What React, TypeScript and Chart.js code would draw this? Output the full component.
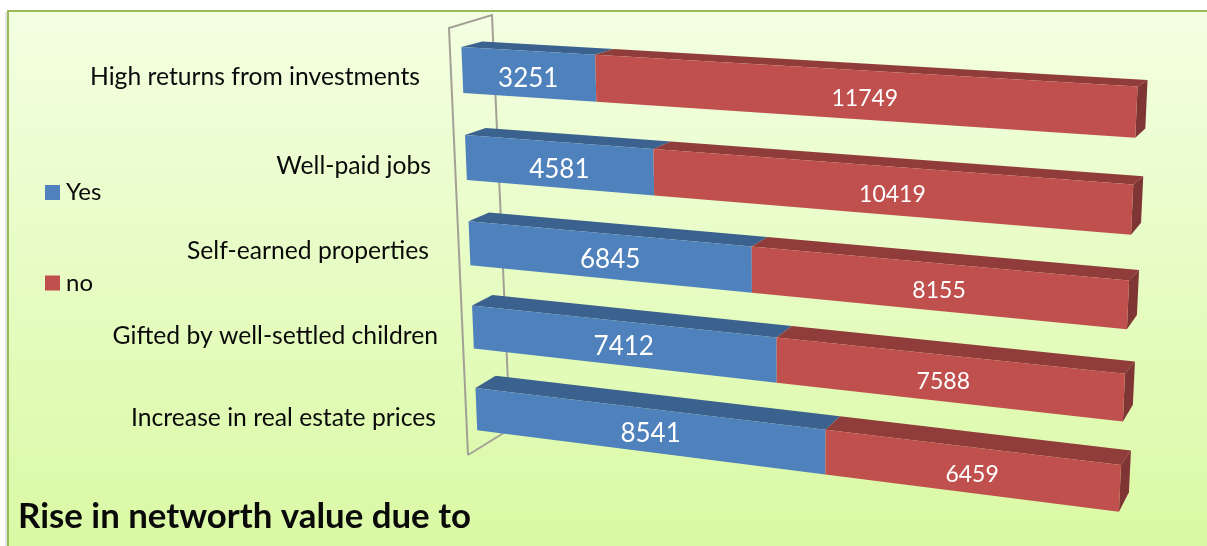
import React, { useEffect, useRef } from "react";
import { Chart, registerables } from "chart.js";

Chart.register(...registerables);

const categories = [
  "High returns from investments",
  "Well-paid jobs",
  "Self-earned properties",
  "Gifted by well-settled children",
  "Increase in real estate prices",
];
const yesValues = [3251, 4581, 6845, 7412, 8541];
const noValues = [11749, 10419, 8155, 7588, 6459];
const seriesNames = ["Yes", "no"];
const titleText = "Rise in networth value due to";

const FONT = "Lato, Carlito, sans-serif";
const labelRight = [420, 431, 429, 438, 436];
const labelMid = [77, 166, 251, 336, 418];
const legendY = [192.5, 283];
const faces = [
  { front: "#4f81bd", top: "#3b618e", side: "#345679" },
  { front: "#c0504d", top: "#8f3c3a", side: "#7f3533" },
];
const labelFontPx = [26, 23];
// small label shifts, since the original places labels in 3D space
const labelNudgeX = [
  [0, 1, 3, 3, 5],
  [11, 9, 5, -2, 3],
];
const labelNudgeY = [
  [4.5, 4.5, 3.5, 3.5, 3.5],
  [4.5, 4.5, 3.5, 3.5, 4.5],
];

type Pt = [number, number];
// perspective quad of the value/category plane on the page
const quad: Pt[] = [[460.5, 25.5], [1138.6, 62.5], [1118, 533], [478, 449.5]];

function makeProjection(q: Pt[]) {
  const [[x0, y0], [x1, y1], [x2, y2], [x3, y3]] = q;
  const dx1 = x1 - x2, dx2 = x3 - x2, sx = x0 - x1 + x2 - x3;
  const dy1 = y1 - y2, dy2 = y3 - y2, sy = y0 - y1 + y2 - y3;
  const d = dx1 * dy2 - dx2 * dy1;
  const g = (sx * dy2 - dx2 * sy) / d;
  const h = (dx1 * sy - sx * dy1) / d;
  const a = x1 - x0 + g * x1, b = x3 - x0 + h * x3, c = x0;
  const e = y1 - y0 + g * y1, f = y3 - y0 + h * y3, i = y0;
  return (u: number, v: number): Pt => {
    const w = g * u + h * v + 1;
    return [(a * u + b * v + c) / w, (e * u + f * v + i) / w];
  };
}
const project = makeProjection(quad);

// depth vector of a bar's top/side, varying over the plane
function depth(u: number, v: number): Pt {
  const dx = (1 - u) * (21 - 1 * v) + u * 10;
  const dy = (1 - u) * (-5 - 8.5 * v) + u * (-6 - 10 * v);
  return [dx, dy];
}

function poly(ctx: CanvasRenderingContext2D, pts: Pt[], fill: string) {
  ctx.beginPath();
  pts.forEach((p, i) => (i ? ctx.lineTo(p[0], p[1]) : ctx.moveTo(p[0], p[1])));
  ctx.closePath();
  ctx.fillStyle = fill;
  ctx.fill();
}

const perspectivePlugin = {
  id: "perspective",
  beforeDraw(chart: any) {
    const { ctx, width, height } = chart;
    ctx.save();
    ctx.fillStyle = "#ffffff";
    ctx.fillRect(0, 0, width, height);
    ctx.fillStyle = "#e4e4e4";
    ctx.fillRect(5, 12, 2, height - 12);
    const g = ctx.createLinearGradient(0, 12, 0, height);
    g.addColorStop(0, "#f3ffe2");
    g.addColorStop(1, "#daf9a4");
    ctx.fillStyle = g;
    ctx.fillRect(8, 11, width - 8, height - 11);
    ctx.fillStyle = "#9bbb59";
    ctx.fillRect(7, 10, width - 7, 2);
    ctx.fillRect(7, 10, 2, height - 10);

    // back wall frame
    const pt = project(0, 0), pb = project(0, 1);
    const ft: Pt = [pt[0] - 11.5, pt[1] + 2.5];
    const bt: Pt = [pt[0] + 31.5, pt[1] - 10.5];
    const fb: Pt = [pb[0] - 10, pb[1] + 5.5];
    const bb: Pt = [pb[0] + 32, pb[1] - 20.5];
    ctx.strokeStyle = "#a3a096";
    ctx.lineWidth = 2;
    ctx.beginPath();
    ctx.moveTo(fb[0], fb[1]);
    ctx.lineTo(ft[0], ft[1]);
    ctx.lineTo(bt[0], bt[1]);
    ctx.lineTo(bb[0], bb[1]);
    ctx.lineTo(fb[0], fb[1]);
    ctx.stroke();
    ctx.restore();
  },
  beforeDatasetsDraw(chart: any) {
    const { ctx, chartArea: ca } = chart;
    const norm = (x: number, y: number): [number, number] => [
      (x - ca.left) / (ca.right - ca.left),
      (y - ca.top) / (ca.bottom - ca.top),
    ];
    const rows = chart.data.labels.length;
    ctx.save();
    for (let r = 0; r < rows; r++) {
      chart.data.datasets.forEach((ds: any, di: number) => {
        const el = chart.getDatasetMeta(di).data[r];
        const [u0, v0] = norm(el.base, el.y - el.height / 2);
        const [u1, v1] = norm(el.x, el.y + el.height / 2);
        const tl = project(u0, v0), tr = project(u1, v0);
        const br = project(u1, v1), bl = project(u0, v1);
        const off = (p: Pt, u: number, v: number, k = 1): Pt => {
          const d = depth(u, v);
          return [p[0] + d[0], p[1] + d[1] * k];
        };
        const col = faces[di];
        poly(ctx, [tl, tr, off(tr, u1, v0), off(tl, u0, v0)], col.top);
        if (di === chart.data.datasets.length - 1) {
          poly(ctx, [tr, br, off(br, u1, v1, 1.25), off(tr, u1, v0)], col.side);
        }
        poly(ctx, [tl, tr, br, bl], col.front);
      });
    }
    // value labels
    ctx.textAlign = "center";
    ctx.textBaseline = "middle";
    ctx.fillStyle = "#ffffff";
    for (let r = 0; r < rows; r++) {
      chart.data.datasets.forEach((ds: any, di: number) => {
        const el = chart.getDatasetMeta(di).data[r];
        const [um, vm] = norm((el.base + el.x) / 2, el.y);
        const p = project(um, vm);
        ctx.font = `${labelFontPx[di]}px ${FONT}`;
        ctx.fillText(String(ds.data[r]), p[0] + labelNudgeX[di][r], p[1] + labelNudgeY[di][r]);
      });
    }
    // category labels
    ctx.fillStyle = "#0a0a0a";
    ctx.textAlign = "right";
    ctx.font = `24.7px ${FONT}`;
    chart.data.labels.forEach((t: string, i: number) => {
      ctx.fillText(t, labelRight[i], labelMid[i]);
    });
    // legend
    ctx.textAlign = "left";
    ctx.font = `24px ${FONT}`;
    chart.data.datasets.forEach((ds: any, i: number) => {
      ctx.fillStyle = faces[i].front;
      ctx.fillRect(45, legendY[i] - 7.5, 15, 15);
      ctx.fillStyle = "#0a0a0a";
      ctx.fillText(ds.label, 66, legendY[i]);
    });
    // title
    ctx.font = `bold 34.8px ${FONT}`;
    ctx.fillText(titleText, 18, 517);
    ctx.restore();
    return false; // the faces above replace the flat rectangles
  },
};

export default function App() {
  const ref = useRef<HTMLCanvasElement>(null);
  useEffect(() => {
    const chart = new Chart(ref.current!, {
      type: "bar",
      data: {
        labels: categories,
        datasets: [
          { label: seriesNames[0], data: yesValues, backgroundColor: faces[0].front },
          { label: seriesNames[1], data: noValues, backgroundColor: faces[1].front },
        ],
      },
      options: {
        indexAxis: "y",
        responsive: false,
        animation: false,
        layout: { padding: { left: 100, right: 100, top: 40, bottom: 40 } },
        datasets: { bar: { barPercentage: 0.52, categoryPercentage: 1 } },
        scales: {
          x: { stacked: true, min: 0, max: 15000, display: false },
          y: { stacked: true, display: false },
        },
        plugins: { legend: { display: false }, tooltip: { enabled: false }, title: { display: false } },
      },
      plugins: [perspectivePlugin],
    } as any);
    return () => chart.destroy();
  }, []);
  return (
    <div style={{ position: "absolute", left: 0, top: 0, width: 1207, height: 546 }}>
      <canvas ref={ref} width={1207} height={546} style={{ display: "block" }} />
    </div>
  );
}
